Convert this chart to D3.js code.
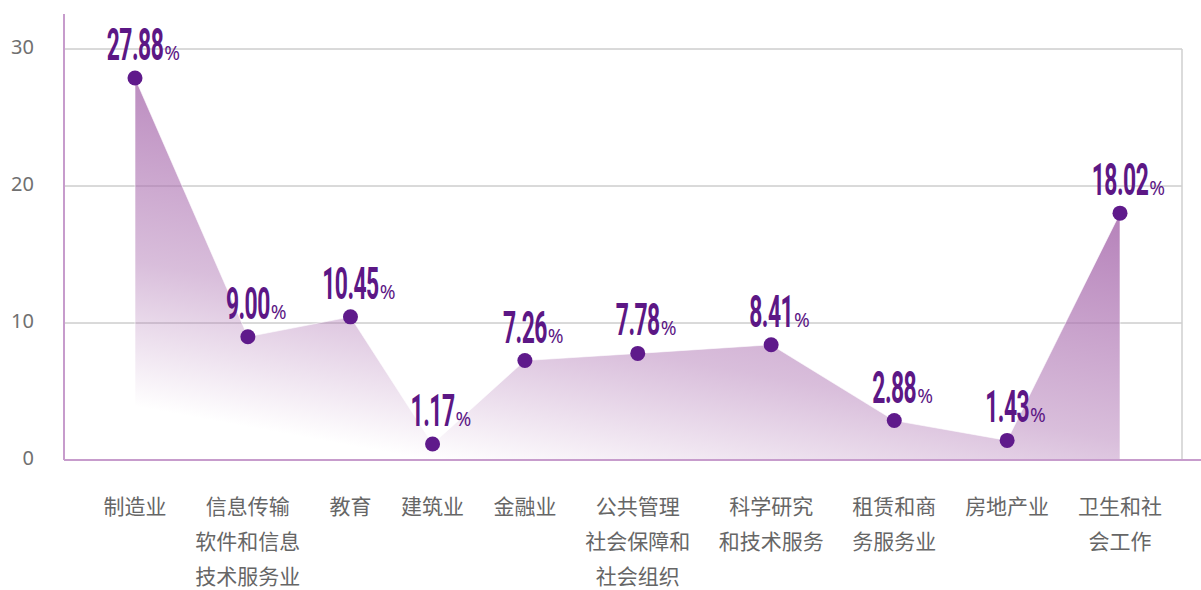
<!DOCTYPE html>
<html>
<head>
<meta charset="utf-8">
<script src="https://cdn.jsdelivr.net/npm/d3@7"></script>
<style>
  body { margin: 0; background: #fff; }
  svg { display: block; }
</style>
</head>
<body>
<svg id="chart"></svg>
<script>
// data
const categories = [
  ["制造业"],
  ["信息传输", "软件和信息", "技术服务业"],
  ["教育"],
  ["建筑业"],
  ["金融业"],
  ["公共管理", "社会保障和", "社会组织"],
  ["科学研究", "和技术服务"],
  ["租赁和商", "务服务业"],
  ["房地产业"],
  ["卫生和社", "会工作"]
];
const shares = [27.88, 9.00, 10.45, 1.17, 7.26, 7.78, 8.41, 2.88, 1.43, 18.02];
const yTicks = [0, 10, 20, 30];

const width = 1201;
const height = 590;
const plot = { left: 64, right: 1182, top: 49, bottom: 460, first: 135, last: 1120 };

const svg = d3.select("svg#chart")
  .attr("width", width)
  .attr("height", height);

// category slots are spaced by label length (longest line), like the original layout
const lens = categories.map(d => d3.max(d, s => s.length));
const gap = 1.5;
let slots = [0];
for (let i = 1; i < lens.length; i++) {
  slots.push(slots[i - 1] + (lens[i - 1] + lens[i]) / 2 + gap);
}
const xScale = d3.scaleLinear()
  .domain([0, slots[slots.length - 1]])
  .range([plot.first, plot.last]);
const xPos = i => xScale(slots[i]);

const yScale = d3.scaleLinear()
  .domain([0, 30])
  .range([plot.bottom, plot.top]);

const data = shares.map((v, i) => ({ value: v, label: categories[i], i: i }));

// gradient for the area (slightly tilted fade)
const defs = svg.append("defs");
const grad = defs.append("linearGradient")
  .attr("id", "areaFill")
  .attr("gradientUnits", "userSpaceOnUse")
  .attr("x1", xPos(0) + 64).attr("y1", yScale(29.6))
  .attr("x2", xPos(0)).attr("y2", yScale(3.9));
grad.append("stop").attr("offset", "0%").attr("stop-color", "rgb(170,110,175)").attr("stop-opacity", 0.85);
grad.append("stop").attr("offset", "60%").attr("stop-color", "rgb(170,110,175)").attr("stop-opacity", 0.45);
grad.append("stop").attr("offset", "100%").attr("stop-color", "rgb(170,110,175)").attr("stop-opacity", 0);

// gridlines
svg.append("g")
  .attr("class", "grid")
  .selectAll("line")
  .data(yTicks.filter(d => d > 0))
  .enter()
  .append("line")
  .attr("x1", plot.left)
  .attr("x2", plot.right)
  .attr("y1", d => yScale(d))
  .attr("y2", d => yScale(d))
  .style("stroke", "#b4b4b4")
  .style("stroke-width", 1);

svg.append("line")
  .attr("x1", plot.right).attr("x2", plot.right)
  .attr("y1", yScale(30)).attr("y2", yScale(0))
  .style("stroke", "#cfcfcf")
  .style("stroke-width", 1.5);

// y tick labels
const yAxis = d3.axisLeft(yScale).tickValues(yTicks).tickSize(0).tickPadding(30);
const yg = svg.append("g")
  .attr("transform", "translate(" + plot.left + ",-2)")
  .call(yAxis);
yg.select(".domain").remove();
yg.selectAll("text")
  .style("font-family", "'Noto Sans', 'Open Sans', sans-serif")
  .style("font-size", "20px")
  .style("fill", "#707070");

// area
const area = d3.area()
  .x(d => xPos(d.i))
  .y0(yScale(0))
  .y1(d => yScale(d.value));

svg.append("path")
  .datum(data)
  .attr("d", area)
  .style("fill", "url(#areaFill)")
  .style("stroke", "#ffffff")
  .style("stroke-opacity", 0.6)
  .style("stroke-width", 1);

// axis lines
svg.append("line")
  .attr("x1", plot.left).attr("x2", plot.left)
  .attr("y1", yScale(32.55)).attr("y2", yScale(0))
  .style("stroke", "#c79ccc")
  .style("stroke-width", 2);
svg.append("line")
  .attr("x1", plot.left).attr("x2", width)
  .attr("y1", yScale(0)).attr("y2", yScale(0))
  .style("stroke", "#c79ccc")
  .style("stroke-width", 2);

// points
svg.append("g")
  .selectAll("circle")
  .data(data)
  .enter()
  .append("circle")
  .attr("cx", d => xPos(d.i))
  .attr("cy", d => yScale(d.value))
  .attr("r", 7.5)
  .style("fill", "#5f1a8b");

// value labels: condensed number + small %
const numScale = 0.52;
const labels = svg.append("g")
  .selectAll("g")
  .data(data)
  .enter()
  .append("g")
  .attr("transform", d => "translate(" + xPos(d.i) + "," + (yScale(d.value) - 18) + ")");

labels.append("text")
  .attr("class", "num")
  .attr("transform", "scale(" + numScale + ",1)")
  .attr("text-anchor", "middle")
  .style("font-family", "Roboto, 'Noto Sans', sans-serif")
  .style("font-weight", 700)
  .style("font-size", "44px")
  .style("letter-spacing", "-1px")
  .style("fill", "#5c1785")
  .text(d => d.value.toFixed(2));

labels.append("text")
  .attr("x", function() {
    const w = d3.select(this.parentNode).select("text.num").node().getComputedTextLength();
    return w * numScale / 2 + 1;
  })
  .style("font-family", "'Noto Sans', 'Open Sans', sans-serif")
  .style("font-size", "19px")
  .style("fill", "#5c1785")
  .text("%");

// category labels
const cats = svg.append("g")
  .selectAll("text")
  .data(data)
  .enter()
  .append("text")
  .attr("x", d => xPos(d.i))
  .attr("y", yScale(0) + 54)
  .attr("text-anchor", "middle")
  .style("font-family", "'Noto Sans CJK SC', sans-serif")
  .style("font-size", "21px")
  .style("fill", "#666666");

cats.selectAll("tspan")
  .data(d => d.label.map(s => ({ s: s, x: xPos(d.i) })))
  .enter()
  .append("tspan")
  .attr("x", d => d.x)
  .attr("dy", (d, i) => (i == 0 ? 0 : 35))
  .text(d => d.s);
</script>
</body>
</html>
